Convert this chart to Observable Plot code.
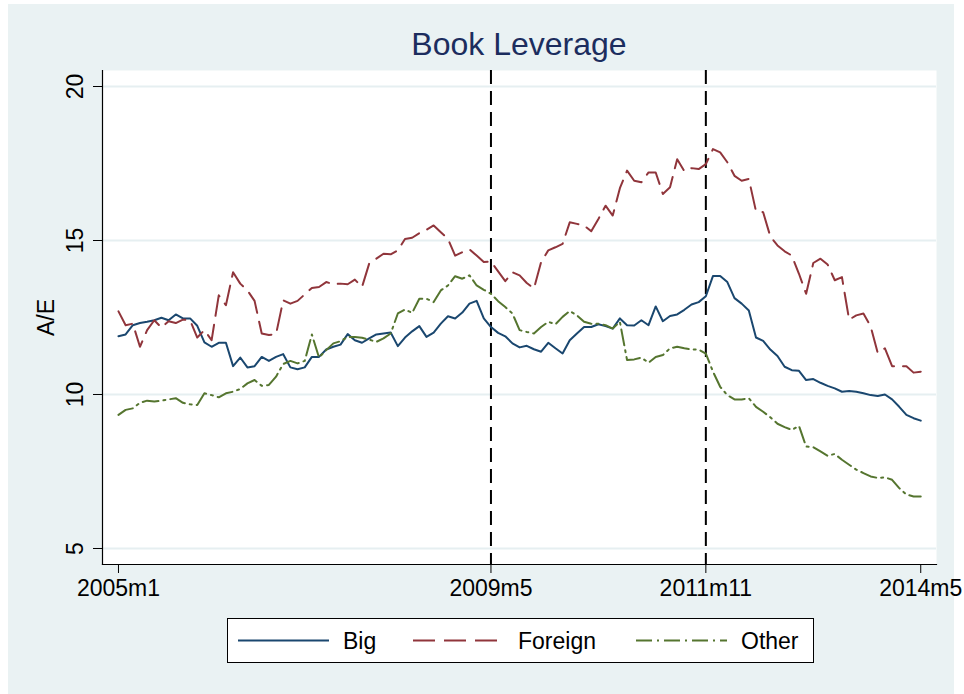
<!DOCTYPE html>
<html>
<head>
<meta charset="utf-8">
<script src="https://cdn.jsdelivr.net/npm/d3@7"></script>
<script src="https://cdn.jsdelivr.net/npm/@observablehq/plot@0.6"></script>
<style>
  html, body { margin: 0; padding: 0; background: #ffffff; }
  #wrap { position: relative; width: 964px; height: 694px; overflow: hidden; font-family: "Liberation Sans", Arial, Helvetica, sans-serif; }
  #bg { position: absolute; left: 8px; top: 4px; width: 946px; height: 690px; background: #EAF2F3; }
  #chart { position: absolute; left: 0; top: 0; }
  #title { position: absolute; left: 102px; width: 834px; top: 24px; text-align: center; font-size: 32px; color: #1c2d5e; line-height: 40px; }
  #legend { position: absolute; left: 227px; top: 618px; width: 587px; height: 45px; box-sizing: border-box; border: 1px solid #000; background: #fff; }
</style>
</head>
<body>
<div id="wrap">
  <div id="bg"></div>
  <div id="chart"></div>
  <div id="title">Book Leverage</div>
  <div id="legend"></div>
</div>
<script>
// Monthly observations, 2005m1 ... 2014m5 (113 months)
const big = [
  11.89, 11.95, 12.25, 12.32, 12.36, 12.41, 12.49, 12.41, 12.60, 12.47, 12.47, 12.23,
  11.69, 11.55, 11.68, 11.68, 10.92, 11.20, 10.88, 10.92, 11.22, 11.09, 11.22, 11.31,
  10.88, 10.82, 10.88, 11.22, 11.22, 11.46, 11.55, 11.62, 11.96, 11.76, 11.68, 11.82,
  11.95, 11.98, 12.01, 11.57, 11.85, 12.05, 12.22, 11.87, 12.01, 12.30, 12.54, 12.47,
  12.66, 12.95, 13.04, 12.47, 12.19, 12.00, 11.89, 11.66, 11.53, 11.58, 11.47, 11.39,
  11.68, 11.50, 11.33, 11.76, 11.98, 12.19, 12.19, 12.28, 12.22, 12.14, 12.47, 12.25,
  12.24, 12.41, 12.25, 12.86, 12.38, 12.55, 12.60, 12.75, 12.92, 13.00, 13.19, 13.85,
  13.85, 13.65, 13.13, 12.95, 12.73, 11.85, 11.74, 11.46, 11.25, 10.90, 10.79, 10.77,
  10.47, 10.50, 10.38, 10.28, 10.20, 10.09, 10.11, 10.09, 10.04, 9.98, 9.95, 10.00,
  9.84, 9.60, 9.34, 9.23, 9.15
];
const foreign = [
  12.70, 12.25, 12.30, 11.55, 12.09, 12.41, 12.17, 12.38, 12.32, 12.43, 12.41, 11.85,
  12.09, 11.76, 13.22, 12.90, 13.97, 13.60, 13.38, 13.04, 11.98, 11.93, 11.96, 13.06,
  12.95, 13.04, 13.25, 13.46, 13.49, 13.65, 13.58, 13.60, 13.58, 13.73, 13.49, 14.25,
  14.41, 14.57, 14.55, 14.68, 15.05, 15.09, 15.24, 15.35, 15.49, 15.27, 15.05, 14.51,
  14.62, 14.71, 14.51, 14.30, 14.32, 14.00, 13.68, 13.97, 13.87, 13.62, 13.44, 14.30,
  14.68, 14.78, 14.89, 15.59, 15.54, 15.49, 15.30, 15.70, 16.13, 15.81, 16.70, 17.27,
  16.94, 16.89, 17.21, 17.21, 16.51, 16.73, 17.64, 17.25, 17.35, 17.32, 17.48, 17.97,
  17.86, 17.54, 17.10, 16.94, 17.00, 15.95, 15.92, 15.13, 14.84, 14.65, 14.51, 13.92,
  13.27, 14.27, 14.41, 14.22, 13.71, 13.81, 12.43, 12.57, 12.63, 12.22, 11.35, 11.50,
  10.92, 10.92, 10.92, 10.71, 10.74
];
const other = [
  9.34, 9.50, 9.55, 9.73, 9.80, 9.77, 9.80, 9.84, 9.88, 9.73, 9.68, 9.66,
  10.04, 9.98, 9.91, 10.04, 10.09, 10.18, 10.36, 10.47, 10.28, 10.31, 10.58, 10.99,
  11.09, 11.01, 11.09, 11.95, 11.20, 11.44, 11.66, 11.73, 11.87, 11.87, 11.84, 11.78,
  11.71, 11.82, 11.98, 12.63, 12.76, 12.65, 13.11, 13.11, 13.00, 13.38, 13.54, 13.84,
  13.76, 13.87, 13.54, 13.40, 13.27, 13.03, 12.84, 12.63, 12.09, 12.03, 11.98, 12.19,
  12.36, 12.28, 12.52, 12.71, 12.57, 12.36, 12.30, 12.30, 12.25, 12.14, 12.36, 11.12,
  11.14, 11.20, 11.03, 11.22, 11.28, 11.50, 11.55, 11.50, 11.46, 11.46, 11.33, 10.74,
  10.25, 9.98, 9.84, 9.84, 9.88, 9.60, 9.44, 9.26, 9.05, 8.94, 8.85, 8.98,
  8.31, 8.29, 8.15, 8.01, 8.07, 7.88, 7.72, 7.56, 7.45, 7.34, 7.29, 7.31,
  7.23, 6.96, 6.75, 6.69, 6.69
];
// x ticks (month index from 2005m1) and their labels
const xTickMonths = [0, 52, 82, 112];
const xTickLabels = ["2005m1", "2009m5", "2011m11", "2014m5"];
const yTicks = [5, 10, 15, 20];
const eventMonths = [52, 82];   // 2009m5, 2011m11
const seriesNames = ["Big", "Foreign", "Other"];
const seriesColors = ["#1a476f", "#90353b", "#55752f"];
const seriesDash = [null, "22,9", "16,5,2,5"];

const rows = [];
[big, foreign, other].forEach((arr, s) => arr.forEach((v, i) => rows.push({series: seriesNames[s], month: i, value: v})));

const font = '"Liberation Sans", Arial, Helvetica, sans-serif';

const lineMarks = seriesNames.map((name, s) =>
  Plot.lineY(rows.filter(r => r.series === name), {
    x: "month", y: "value", stroke: seriesColors[s], strokeWidth: 2,
    strokeDasharray: seriesDash[s] || undefined, strokeLinejoin: "round"
  })
);

const chart = Plot.plot({
  width: 964,
  height: 694,
  marginTop: 70,
  marginBottom: 130,
  marginLeft: 102,
  marginRight: 28,
  style: {background: "transparent", fontFamily: font, fontSize: "23px", color: "#000", overflow: "visible"},
  x: {domain: [-2.23, 114.2]},
  y: {domain: [4.48, 20.52]},
  marks: [
    Plot.frame({fill: "white", stroke: "none"}),
    Plot.ruleY(yTicks, {stroke: "#E6EFF1", strokeWidth: 2}),
    Plot.ruleX(eventMonths, {stroke: "#000", strokeWidth: 2, strokeDasharray: "14,7"}),
    ...lineMarks,
    Plot.frame({anchor: "bottom", stroke: "#000", strokeWidth: 1.2}),
    Plot.frame({anchor: "left", stroke: "#000", strokeWidth: 1.2}),
    Plot.axisX({ticks: xTickMonths, tickFormat: d => xTickLabels[xTickMonths.indexOf(d)], tickSize: 9, tickPadding: 6, label: null, fontSize: 23}),
    Plot.axisY({ticks: yTicks, tickSize: 9, tickFormat: () => "", label: null}),
    Plot.text(yTicks, {y: d => d, text: d => String(d), frameAnchor: "left", rotate: -90, dx: -20, textAnchor: "middle", lineAnchor: "bottom", fontSize: 23}),
    Plot.text(["A/E"], {frameAnchor: "left", rotate: -90, dx: -56, textAnchor: "middle", lineAnchor: "middle", fontSize: 23})
  ]
});
document.getElementById("chart").append(chart);

// Legend
const legendSvg = d3.select("#legend").append("svg")
  .attr("width", 585).attr("height", 43)
  .style("font-family", font).style("font-size", "23px");
const legendX = [10, 185, 408];
seriesNames.forEach((name, s) => {
  legendSvg.append("line")
    .attr("x1", legendX[s]).attr("x2", legendX[s] + 91)
    .attr("y1", 21.5).attr("y2", 21.5)
    .attr("stroke", seriesColors[s]).attr("stroke-width", 2)
    .attr("stroke-dasharray", seriesDash[s]);
  legendSvg.append("text")
    .attr("x", legendX[s] + 105).attr("y", 30)
    .attr("fill", "#000")
    .text(name);
});
</script>
</body>
</html>
